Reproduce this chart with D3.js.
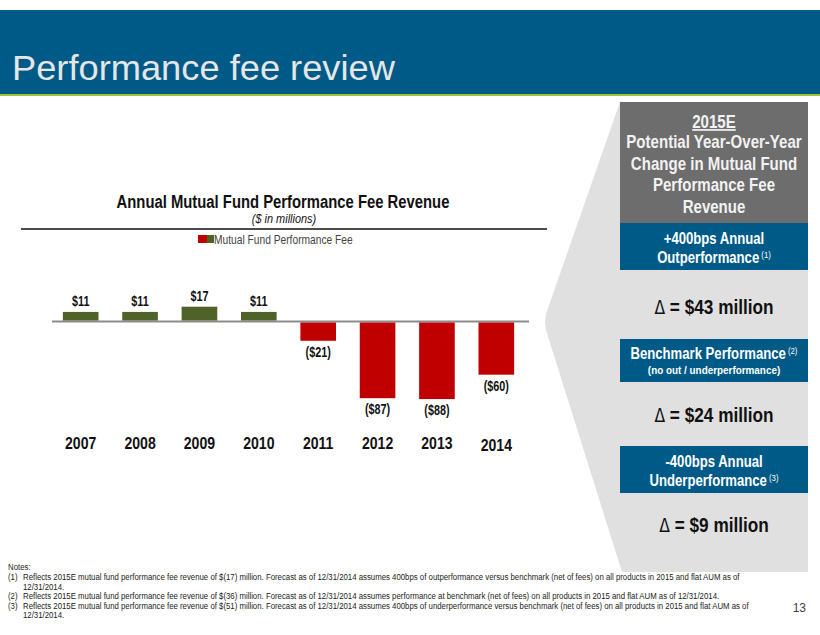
<!DOCTYPE html>
<html>
<head>
<meta charset="utf-8">
<script src="https://cdn.jsdelivr.net/npm/d3@7.9.0/dist/d3.min.js"></script>
<style>
  html, body { margin: 0; padding: 0; background: #fff; }
  svg { display: block; }
  .narrow { font-family: "Liberation Sans Narrow", "Arial Narrow", "Liberation Sans", Arial, sans-serif; }
</style>
</head>
<body>
<svg id="slide" width="820" height="635"></svg>
<script>
// chart data
const years = ['2007', '2008', '2009', '2010', '2011', '2012', '2013', '2014'];
const fees = [11, 11, 17, 11, -21, -87, -88, -60];
const feeLabels = ['$11', '$11', '$17', '$11', '($21)', '($87)', '($88)', '($60)'];

// right panel
const panelHead = ['Potential Year-Over-Year', 'Change in Mutual Fund', 'Performance Fee', 'Revenue'];
const scenarioLine1 = ['+400bps Annual', 'Benchmark Performance', '-400bps Annual'];
const scenarioLine2 = ['Outperformance', '(no out / underperformance)', 'Underperformance'];
const scenarioNote = ['(1)', '(2)', '(3)'];
const scenarioDelta = [43, 24, 9];

const notes = [
  ['(1)', 'Reflects 2015E mutual fund performance fee revenue of $(17) million. Forecast as of 12/31/2014 assumes 400bps of outperformance versus benchmark (net of fees) on all products in 2015 and flat AUM as of', '12/31/2014.'],
  ['(2)', 'Reflects 2015E mutual fund performance fee revenue of $(36) million. Forecast as of 12/31/2014 assumes performance at benchmark (net of fees) on all products in 2015 and flat AUM as of 12/31/2014.'],
  ['(3)', 'Reflects 2015E mutual fund performance fee revenue of $(51) million. Forecast as of 12/31/2014 assumes 400bps of underperformance versus benchmark (net of fees) on all products in 2015 and flat AUM as of', '12/31/2014.']
];

const svg = d3.select('#slide');
const blue = '#005a87';

// squeeze text horizontally (no narrow font installed), scaling about its anchor
function condense(sel, f) {
  sel.each(function () {
    const t = d3.select(this);
    const tx = +t.attr('x'), ty = +t.attr('y');
    const k = typeof f === 'function' ? f(this) : f;
    t.attr('x', 0).attr('y', 0).attr('transform', `translate(${tx},${ty}) scale(${k},1)`);
  });
  return sel;
}
const fitTo = w => node => w / node.getComputedTextLength();

// header band
svg.append('rect').attr('x', 0).attr('y', 10).attr('width', 820).attr('height', 84).attr('fill', blue);
svg.append('rect').attr('x', 0).attr('y', 94).attr('width', 820).attr('height', 2).attr('fill', '#9cc43c');
condense(svg.append('text').attr('x', 12).attr('y', 80)
  .attr('font-family', '"Liberation Sans", Arial, sans-serif')
  .attr('font-size', 36).attr('fill', '#e6e6e6')
  .text('Performance fee review'), fitTo(383));

// chevron behind the panel
svg.append('polygon')
  .attr('points', '620,102 808,102 808,572 622,572 546,330 545,322 546,314')
  .attr('fill', '#e0e0e0');

// panel header
svg.append('rect').attr('x', 620).attr('y', 102).attr('width', 188).attr('height', 121).attr('fill', '#6d6d6d');
const cx = 714;
condense(svg.append('text').attr('class', 'narrow').attr('x', cx).attr('y', 128)
  .attr('text-anchor', 'middle').attr('font-size', 17.5).attr('font-weight', 'bold')
  .attr('fill', '#f2f2f2').attr('text-decoration', 'underline').text('2015E'), 0.86);
condense(svg.selectAll('.head').data(panelHead).join('text')
  .attr('class', 'narrow head').attr('x', cx).attr('y', (d, i) => 148 + i * 21.5)
  .attr('text-anchor', 'middle').attr('font-size', 17.5).attr('font-weight', 'bold').attr('fill', '#f2f2f2')
  .text(d => d), 0.86);

// scenario boxes
const boxTop = [223, 339, 446];
const boxH = [47, 43, 47];
const deltaY = [314, 422, 532];
boxTop.forEach((t, i) => {
  svg.append('rect').attr('x', 620).attr('y', t).attr('width', 188).attr('height', boxH[i]).attr('fill', blue);
  const small = i === 1;
  const l1 = svg.append('text').attr('class', 'narrow').attr('x', cx).attr('y', t + (small ? 20 : 21))
    .attr('text-anchor', 'middle').attr('font-size', 16).attr('font-weight', 'bold').attr('fill', '#fff');
  l1.append('tspan').text(scenarioLine1[i]);
  if (small) l1.append('tspan').attr('font-size', 9.5).attr('font-weight', 'normal').attr('dy', -5).text(' ' + scenarioNote[i]);
  condense(l1, 0.82);
  const l2 = svg.append('text').attr('class', 'narrow').attr('x', cx).attr('y', t + (small ? 35 : 40))
    .attr('text-anchor', 'middle').attr('font-size', small ? 11.5 : 16).attr('font-weight', 'bold').attr('fill', '#fff');
  l2.append('tspan').text(scenarioLine2[i]);
  if (!small) l2.append('tspan').attr('font-size', 9.5).attr('font-weight', 'normal').attr('dy', -5).text(' ' + scenarioNote[i]);
  condense(l2, small ? 0.86 : 0.82);

  const dt = svg.append('text').attr('class', 'narrow').attr('x', cx).attr('y', deltaY[i])
    .attr('text-anchor', 'middle').attr('font-size', 21).attr('fill', '#111');
  dt.append('tspan').attr('font-family', '"DejaVu Sans", sans-serif').attr('font-weight', 'normal').attr('font-size', 19).text('\u0394');
  dt.append('tspan').attr('font-weight', 'bold').text(` = $${scenarioDelta[i]} million`);
  condense(dt, 0.82);
});

// chart title block
condense(svg.append('text').attr('class', 'narrow').attr('x', 283).attr('y', 208)
  .attr('text-anchor', 'middle').attr('font-size', 18).attr('font-weight', 'bold').attr('fill', '#111')
  .text('Annual Mutual Fund Performance Fee Revenue'), fitTo(333));
condense(svg.append('text').attr('class', 'narrow').attr('x', 284).attr('y', 223)
  .attr('text-anchor', 'middle').attr('font-size', 13).attr('font-style', 'italic').attr('fill', '#111')
  .text('($ in millions)'), 0.84);
svg.append('line').attr('x1', 21).attr('x2', 547).attr('y1', 229).attr('y2', 229)
  .attr('stroke', '#111').attr('stroke-width', 1.5);

// legend
svg.append('rect').attr('x', 198).attr('y', 235).attr('width', 9).attr('height', 8).attr('fill', '#c00000');
svg.append('rect').attr('x', 207).attr('y', 235).attr('width', 7).attr('height', 8).attr('fill', '#4f6228');
condense(svg.append('text').attr('class', 'narrow').attr('x', 214).attr('y', 244)
  .attr('font-size', 12.5).attr('fill', '#444')
  .text('Mutual Fund Performance Fee'), fitTo(139));

// scales
const x = d3.scaleBand().domain(years).range([51, 526]).paddingInner(0.4).paddingOuter(0.2);
const y = d3.scaleLinear().domain([-100, 30]).range([408.5, 295.4]);

// zero line
svg.append('line').attr('x1', 52).attr('x2', 529).attr('y1', y(0)).attr('y2', y(0))
  .attr('stroke', '#8c8c8c').attr('stroke-width', 2);

svg.append('g').selectAll('rect').data(fees).join('rect')
  .attr('x', (d, i) => x(years[i]))
  .attr('width', x.bandwidth())
  .attr('y', d => d >= 0 ? y(d) : y(0) + 1)
  .attr('height', d => Math.abs(y(d) - y(0)) - (d >= 0 ? 1 : 0))
  .attr('fill', d => d >= 0 ? '#4f6228' : '#c00000');

condense(svg.append('g').selectAll('text').data(fees).join('text')
  .attr('class', 'narrow')
  .attr('x', (d, i) => x(years[i]) + x.bandwidth() / 2)
  .attr('y', d => d >= 0 ? y(d) - 6 : y(d) + 17)
  .attr('text-anchor', 'middle').attr('font-size', 15).attr('font-weight', 'bold').attr('fill', '#111')
  .text((d, i) => feeLabels[i]), 0.72);

// category labels
condense(svg.append('g').selectAll('text').data(years).join('text')
  .attr('class', 'narrow')
  .attr('x', d => x(d) + x.bandwidth() / 2)
  .attr('y', (d, i) => i === years.length - 1 ? 451 : 449)
  .attr('text-anchor', 'middle').attr('font-size', 16).attr('font-weight', 'bold').attr('fill', '#111')
  .text(d => d), 0.88);

// notes
const nf = svg.append('g').attr('class', 'narrow').attr('font-size', 9.3).attr('fill', '#222');
nf.append('text').attr('x', 8).attr('y', 570).text('Notes:');
let ly = 580;
notes.forEach(n => {
  nf.append('text').attr('x', 8).attr('y', ly).text(n[0]);
  nf.append('text').attr('x', 23).attr('y', ly).text(n[1]);
  ly += 9.5;
  if (n[2]) {
    nf.append('text').attr('x', 23).attr('y', ly).text(n[2]);
    ly += 9.5;
  }
});
condense(nf.selectAll('text'), 0.84);
svg.append('text').attr('x', 806).attr('y', 612).attr('text-anchor', 'end')
  .attr('font-family', '"Liberation Sans", Arial, sans-serif').attr('font-size', 12).attr('fill', '#444')
  .text('13');
</script>
</body>
</html>
